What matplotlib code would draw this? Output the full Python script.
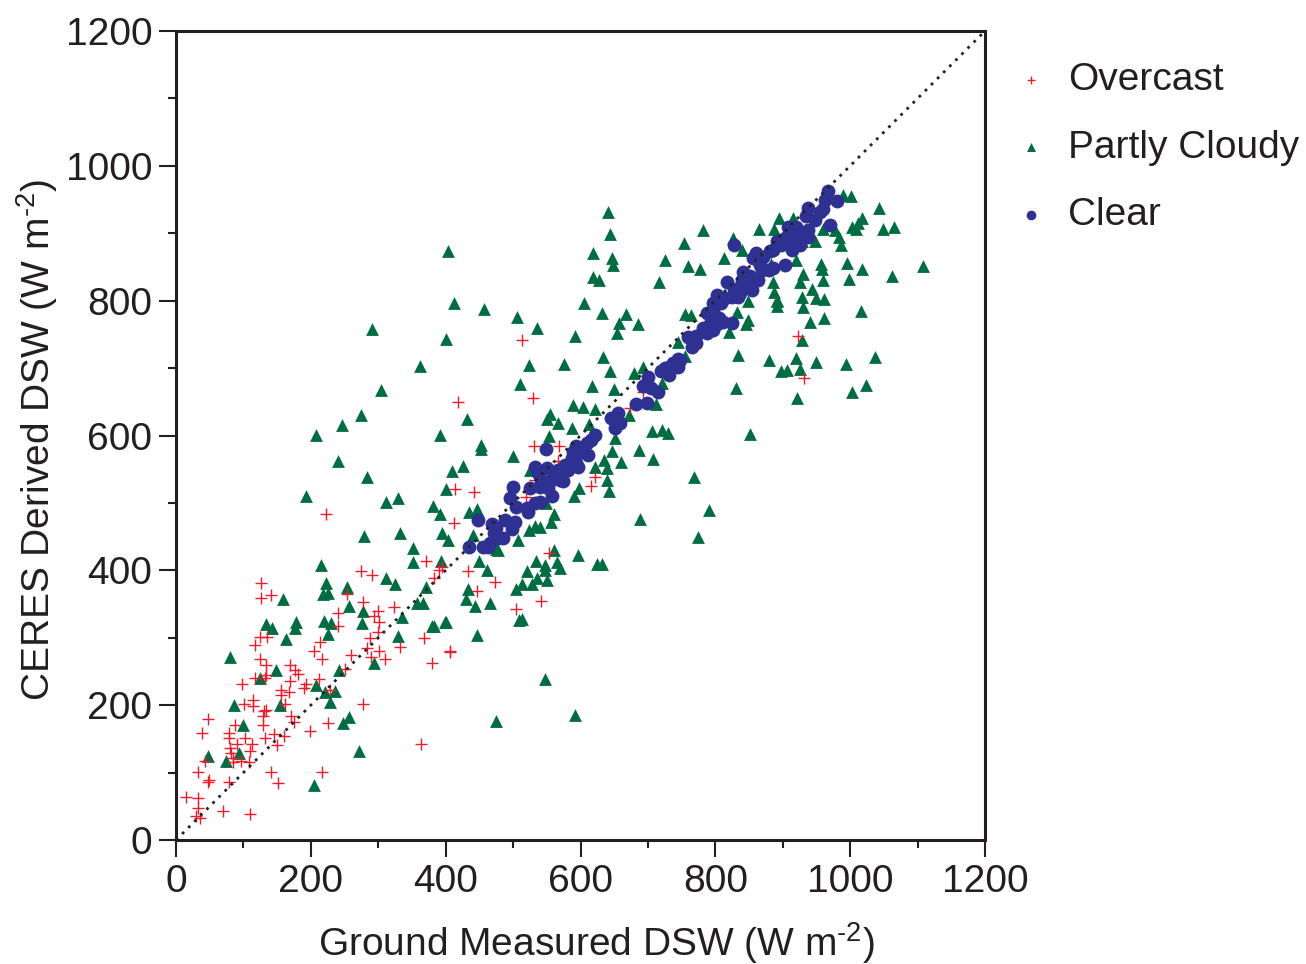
import matplotlib
matplotlib.use("Agg")
import matplotlib.pyplot as plt
from matplotlib.ticker import MultipleLocator

plt.rcParams['font.family'] = ['Liberation Sans', 'DejaVu Sans']
plt.rcParams['mathtext.fontset'] = 'custom'
plt.rcParams['mathtext.rm'] = 'Liberation Sans'

# ---------------- data (W m-2) ----------------
overcast_x = [275, 290, 126, 126, 141, 253, 371, 390, 383, 395, 277, 240, 300, 293, 324, 301, 240, 300, 288, 368,
              124, 135, 117, 214, 204, 217, 259, 283, 289, 301, 310, 332, 406, 379, 125, 134, 169, 176, 181, 117,
              132, 133, 169, 98, 193, 190, 156, 156, 167, 212, 228, 250, 114, 114, 101, 162, 134, 131, 129, 171,
              175, 277, 48, 88, 129, 225, 39, 78, 79, 90, 80, 102, 132, 146, 160, 150, 112, 110, 82, 85,
              97, 85, 108, 43, 199, 364, 33, 49, 47, 79, 141, 152, 217, 15, 33, 32, 69, 110, 30, 35,
              433, 473, 446, 542, 505, 407, 223, 414, 412, 513, 418, 530, 692, 673, 531, 568, 567, 621, 615, 533,
              442, 519, 553, 923, 931]
overcast_y = [399, 393, 381, 359, 363, 365, 414, 400, 388, 405, 353, 337, 340, 333, 345, 323, 318, 308, 300, 300,
              301, 301, 289, 294, 281, 269, 275, 285, 271, 281, 269, 287, 280, 262, 269, 260, 260, 252, 246, 241,
              240, 245, 236, 231, 231, 226, 222, 215, 220, 239, 222, 253, 208, 199, 201, 201, 193, 191, 184, 184,
              175, 201, 179, 170, 171, 173, 159, 159, 152, 142, 137, 152, 152, 157, 155, 141, 142, 132, 129, 122,
              117, 115, 116, 117, 161, 143, 101, 89, 86, 86, 101, 85, 101, 64, 63, 47, 43, 38, 36, 32,
              399, 382, 370, 354, 342, 279, 484, 520, 470, 741, 650, 655, 665, 641, 585, 585, 562, 539, 525, 534,
              516, 509, 425, 748, 686]

partly_x = [215, 352, 393, 222, 254, 312, 325, 371, 158, 218, 226, 257, 278, 366, 358, 134, 142, 178, 176, 219,
            230, 276, 335, 226, 163, 330, 380, 383, 399, 80, 148, 125, 242, 294, 208, 221, 236, 228, 86, 155,
            99, 256, 248, 48, 94, 74, 272, 204,
            450, 461, 534, 547, 547, 565, 569, 625, 632, 520, 535, 551, 513, 528, 504, 433, 430, 443, 466, 509,
            513, 400, 446, 547, 592, 475,
            412, 291, 400, 362, 304, 275, 246, 207, 391, 241, 284, 410, 400, 193, 311, 330, 381, 392, 279, 333,
            394, 403, 351,
            457, 605, 506, 632, 667, 657, 685, 536, 592, 654, 755, 764, 744, 755, 634, 576, 523, 644, 679, 693,
            510, 617, 650, 721, 589, 603, 622, 555, 551, 566, 672, 712, 431, 587, 613, 706, 721, 730, 553, 651,
            453, 453, 500, 687, 707, 646, 635, 660, 425, 525, 622, 639, 769, 640, 643, 598, 591, 549, 435, 446,
            561, 556, 532, 540, 524, 791, 688, 440, 507, 774, 474, 477, 561, 597,
            849, 892, 892, 930, 1016, 832, 848, 846, 821, 941, 961, 929, 833, 880, 919, 950, 994, 1037, 898, 906,
            926, 831, 1002, 1023, 921, 852,
            641, 644, 782, 753, 403, 619, 647, 648, 726, 759, 777, 619, 628, 717,
            989, 1001, 1043, 1018, 1011, 1002, 1009, 1049, 1065, 865, 895, 887, 915, 960, 977, 826, 840, 984, 987, 948,
            928, 813, 883, 920, 957, 958, 995, 1018, 1108, 1062, 930, 926, 960, 998, 885, 944, 887, 891, 928, 950,
            961]
partly_y = [408, 413, 414, 381, 375, 389, 380, 376, 358, 365, 366, 347, 340, 351, 351, 321, 315, 324, 315, 325,
            322, 322, 331, 306, 298, 302, 317, 317, 324, 272, 252, 241, 252, 262, 230, 220, 221, 205, 200, 200,
            170, 183, 173, 124, 129, 117, 132, 81,
            414, 400, 414, 408, 401, 412, 404, 409, 410, 399, 388, 385, 379, 379, 372, 372, 357, 347, 352, 326,
            328, 324, 304, 239, 185, 176,
            796, 758, 743, 703, 667, 630, 615, 601, 601, 562, 539, 547, 520, 511, 501, 508, 496, 484, 451, 455,
            455, 445, 433,
            787, 796, 776, 781, 780, 767, 766, 760, 748, 752, 780, 779, 738, 718, 716, 706, 704, 695, 693, 702,
            677, 673, 669, 678, 645, 642, 639, 632, 625, 619, 631, 646, 625, 611, 617, 607, 608, 604, 599, 597,
            586, 580, 569, 579, 565, 577, 564, 560, 555, 549, 554, 552, 538, 534, 517, 522, 510, 500, 487, 491,
            483, 471, 466, 465, 460, 490, 476, 453, 445, 450, 431, 430, 430, 423,
            799, 800, 792, 791, 785, 783, 772, 766, 753, 769, 775, 741, 719, 712, 715, 709, 706, 717, 695, 697,
            699, 670, 665, 675, 656, 602,
            931, 899, 905, 886, 873, 870, 864, 853, 861, 852, 847, 835, 831, 828,
            957, 955, 937, 923, 915, 910, 907, 907, 910, 906, 922, 907, 922, 907, 905, 893, 875, 895, 883, 888,
            888, 864, 855, 860, 855, 847, 856, 847, 852, 837, 840, 828, 831, 832, 828, 818, 813, 801, 806, 804,
            802]

clear_x = [796, 787, 806, 792, 782, 796, 787, 772, 760, 765, 772, 745, 737, 732, 725, 720, 732, 745, 747, 700,
           698, 705, 715, 693, 682, 698, 656, 645, 653, 651, 658, 621, 616, 609, 611, 602, 594, 589, 587, 594,
           597, 582, 577, 567, 569, 574, 560, 550, 537, 532, 542, 555, 549, 525, 540, 552, 557, 500, 495, 504,
           520, 522, 532, 540, 448, 468, 475, 488, 503, 498, 471, 478, 485, 466, 456, 434, 463,
           802, 812, 824,
           967, 981, 962, 960, 938, 934, 948, 970, 955, 920, 908, 938, 938, 925, 911, 903, 891, 898, 913, 916,
           925, 827, 861, 856, 871, 881, 886, 866, 869, 886, 903, 879, 841, 851, 864, 839, 817, 846, 854, 827,
           836, 802, 814, 824, 834, 797, 809]
clear_y = [784, 781, 774, 766, 759, 757, 752, 747, 746, 732, 737, 713, 707, 702, 700, 695, 690, 702, 712, 687,
           677, 670, 664, 674, 647, 648, 633, 626, 621, 611, 618, 601, 593, 589, 571, 576, 584, 576, 566, 559,
           554, 549, 556, 549, 534, 532, 542, 552, 544, 554, 534, 532, 580, 522, 524, 522, 510, 523, 508, 494,
           492, 487, 500, 502, 474, 469, 463, 475, 472, 461, 455, 448, 448, 440, 434, 434, 435,
           766, 769, 767,
           962, 948, 949, 936, 938, 925, 919, 912, 932, 909, 909, 905, 895, 895, 893, 893, 888, 883, 875, 883,
           883, 883, 870, 863, 865, 873, 875, 853, 846, 848, 853, 846, 843, 836, 831, 831, 828, 823, 816, 818,
           811, 809, 804, 806, 806, 796, 796]

labels = ['Overcast', 'Partly Cloudy', 'Clear']
axis_ticks = [0, 200, 400, 600, 800, 1000, 1200]

red = '#ec1c2a'
green = '#006c42'
blue = '#2e3192'
ink = '#231f20'

# ---------------- figure ----------------
fig = plt.figure(figsize=(13.06, 9.64), dpi=100)
ax = fig.add_axes([176 / 1306, 1 - 840 / 964, 809 / 1306, 809 / 964])

ax.scatter(partly_x, partly_y, marker='^', s=85, color=green, linewidths=0, zorder=2, label=labels[1])
ax.scatter(overcast_x, overcast_y, marker='+', s=70, color=red, linewidths=1.0, zorder=3, label=labels[0])
ax.scatter(clear_x, clear_y, marker='o', s=100, color=blue, linewidths=0, zorder=4, label=labels[2])
ax.plot([0, 1200], [0, 1200], color='#222222', linestyle=(0, (1, 2.1)), linewidth=2.0, zorder=5)

ax.set_xlim(0, 1200)
ax.set_ylim(0, 1200)
ax.set_xticks(axis_ticks)
ax.set_yticks(axis_ticks)
ax.xaxis.set_minor_locator(MultipleLocator(100))
ax.yaxis.set_minor_locator(MultipleLocator(100))
ax.tick_params(which='major', direction='out', length=12, width=1.5, labelsize=28, pad=5, colors=ink)
ax.tick_params(which='minor', direction='out', length=6, width=1.5, colors=ink)
for sp in ax.spines.values():
    sp.set_linewidth(2.2)
    sp.set_color(ink)

sup = '$^{\\mathregular{\u20102}}$'
ax.set_xlabel('Ground Measured DSW (W m' + sup + ')', fontsize=28, color=ink, labelpad=15)
ax.set_ylabel('CERES Derived DSW (W m' + sup + ')', fontsize=28, color=ink, labelpad=4)
ax.xaxis.label.set_x(0.519)
ax.yaxis.label.set_y(0.495)

h, l = ax.get_legend_handles_labels()
order = [l.index(t) for t in labels]
leg = fig.legend([h[i] for i in order], [l[i] for i in order], loc='upper left',
                 bbox_to_anchor=(1012 / 1306, 1 - 62 / 964), frameon=False, fontsize=28,
                 markerscale=0.7, handletextpad=0.45, labelspacing=0.81, handlelength=1.0,
                 borderaxespad=0, borderpad=0)
for t in leg.get_texts():
    t.set_color(ink)

fig.savefig('out.png', dpi=100)
